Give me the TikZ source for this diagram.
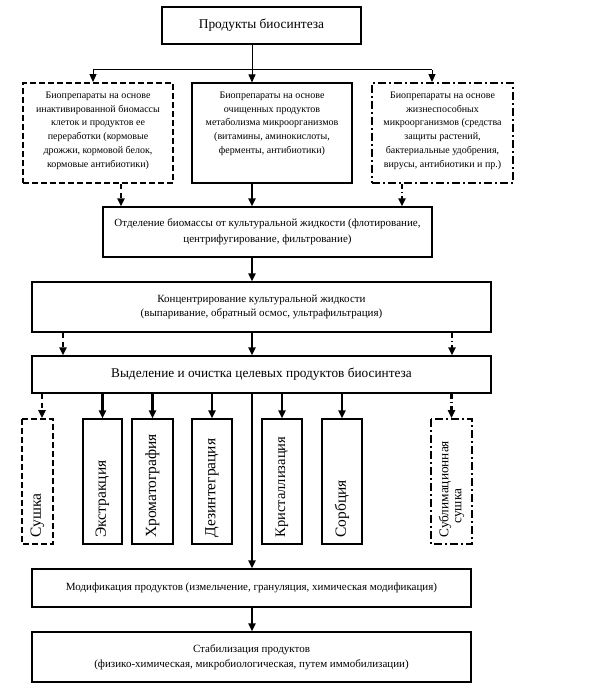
\documentclass[tikz,border=0pt]{standalone}
\usepackage{fontspec}
\setmainfont{Liberation Serif}
\usetikzlibrary{arrows.meta,calc}
\newcommand{\topbox}[2]{\parbox[c][94pt][t]{#1}{\centering\vspace*{6pt}#2}}
\begin{document}
\begin{tikzpicture}[x=1pt,y=-1pt,
  box/.style={draw=black,line width=1.1pt,inner sep=2pt,align=center,font=\fontsize{10}{13.7}\selectfont},
  dbox/.style={box,line width=1.8pt,dash pattern=on 6pt off 3pt},
  ddbox/.style={box,line width=1.8pt,dash pattern=on 8pt off 3pt on 2pt off 3pt},
  vbox/.style={draw=black,line width=1.1pt,rotate=90,minimum width=125pt,text width=112pt,align=left,inner xsep=6.5pt,inner ysep=2pt,font=\fontsize{15.5}{16}\selectfont},
  arr/.style={-{Triangle[length=8pt,width=7pt]},line width=1pt},
  tarr/.style={-{Triangle[length=8pt,width=7pt]},line width=2.2pt},
  dashc/.style={dash pattern=on 5pt off 4pt},
  ddashc/.style={dash pattern=on 5pt off 3pt on 1.5pt off 3pt}]
\useasboundingbox[fill=white] (0,0) rectangle (602,695);
% top
\node[box,minimum width=199pt,minimum height=37pt,font=\fontsize{13.4}{15}\selectfont] (top) at (261.5,25.5) {Продукты биосинтеза};
\node[dbox,minimum width=150pt,minimum height=100pt] (left) at (98,133) {\topbox{144pt}{Биопрепараты на основе\\инактивированной биомассы\\клеток и продуктов ее\\переработки (кормовые\\дрожжи, кормовой белок,\\кормовые антибиотики)}};
\node[box,minimum width=160pt,minimum height=100pt] (mid) at (272,133) {\topbox{154pt}{Биопрепараты на основе\\очищенных продуктов\\метаболизма микроорганизмов\\(витамины, аминокислоты,\\ферменты, антибиотики)}};
\node[ddbox,minimum width=141pt,minimum height=100pt] (right) at (442.5,133) {\topbox{135pt}{Биопрепараты на основе\\жизнеспособных\\микроорганизмов (средства\\защиты растений,\\бактериальные удобрения,\\вирусы, антибиотики и пр.)}};
\node[box,minimum width=329pt,minimum height=50pt,font=\fontsize{11}{16}\selectfont] (sep) at (267.5,232) {Отделение биомассы от культуральной жидкости (флотирование,\\центрифугирование, фильтрование)};
\node[box,minimum width=459pt,minimum height=50pt,font=\fontsize{11}{14.3}\selectfont] (conc) at (261.5,307) {Концентрирование культуральной жидкости\\(выпаривание, обратный осмос, ультрафильтрация)};
\node[box,minimum width=459pt,minimum height=37pt,font=\fontsize{13.3}{15}\selectfont] (sel) at (261.5,374.5) {Выделение и очистка целевых продуктов биосинтеза};
% vertical boxes
\node[vbox,minimum height=31pt,line width=1.8pt,dash pattern=on 6pt off 3pt] (sush) at (37.5,481.5) {Сушка};
\node[vbox,minimum height=39pt] (ekst) at (102.5,481.5) {Экстракция};
\node[vbox,minimum height=41pt] (hrom) at (152.5,481.5) {Хроматография};
\node[vbox,minimum height=40pt] (dez) at (212,481.5) {Дезинтеграция};
\node[vbox,minimum height=40pt,font=\fontsize{14.5}{16}\selectfont] (krist) at (282,481.5) {Кристаллизация};
\node[vbox,minimum height=40pt] (sorb) at (342,481.5) {Сорбция};
\node[vbox,minimum height=41pt,line width=1.8pt,dash pattern=on 8pt off 3pt on 2pt off 3pt,font=\fontsize{13.3}{13}\selectfont] (subl) at (451.5,481.5) {Сублимационная\\\hspace*{14pt}сушка};
\node[box,minimum width=439pt,minimum height=38pt,font=\fontsize{11}{14}\selectfont] (mod) at (251.5,588) {Модификация продуктов (измельчение, грануляция, химическая модификация)};
\node[box,minimum width=439pt,minimum height=50pt,font=\fontsize{11}{14.7}\selectfont] (stab) at (251.5,657) {Стабилизация продуктов\\(физико-химическая, микробиологическая, путем иммобилизации)};
% connectors
\coordinate (j) at (252,70);
\coordinate (jl) at (93,70);
\coordinate (jr) at (432,70);
\draw[line width=1pt] (top.south -| j) -- (j);
\draw[line width=1pt] (jl) -- (jr);
\draw[arr] (jl) -- (jl |- left.north);
\draw[arr] (j) -- (j |- mid.north);
\draw[arr] (jr) -- (jr |- right.north);
\coordinate (c1) at (121,0);
\coordinate (c2) at (252,0);
\coordinate (c3) at (402,0);
\draw[tarr,dashc] (c1 |- left.south) -- (c1 |- sep.north);
\draw[tarr] (c2 |- mid.south) -- (c2 |- sep.north);
\draw[tarr,ddashc] (c3 |- right.south) -- (c3 |- sep.north);
\draw[tarr] (c2 |- sep.south) -- (c2 |- conc.north);
\coordinate (d1) at (63,0);
\coordinate (d3) at (452,0);
\draw[tarr,dashc] (d1 |- conc.south) -- (d1 |- sel.north);
\draw[tarr] (c2 |- conc.south) -- (c2 |- sel.north);
\draw[tarr,ddashc] (d3 |- conc.south) -- (d3 |- sel.north);
\coordinate (e1) at (42,0);
\draw[tarr,dashc] (e1 |- sel.south) -- (e1 |- sush.east);
\draw[tarr] (ekst.east |- sel.south) -- (ekst.east);
\draw[tarr] (hrom.east |- sel.south) -- (hrom.east);
\draw[tarr] (dez.east |- sel.south) -- (dez.east);
\draw[tarr] (krist.east |- sel.south) -- (krist.east);
\draw[tarr] (sorb.east |- sel.south) -- (sorb.east);
\draw[tarr,ddashc] (subl.east |- sel.south) -- (subl.east);
\draw[tarr] (c2 |- sel.south) -- (c2 |- mod.north);
\draw[tarr] (c2 |- mod.south) -- (c2 |- stab.north);
\end{tikzpicture}
\end{document}
